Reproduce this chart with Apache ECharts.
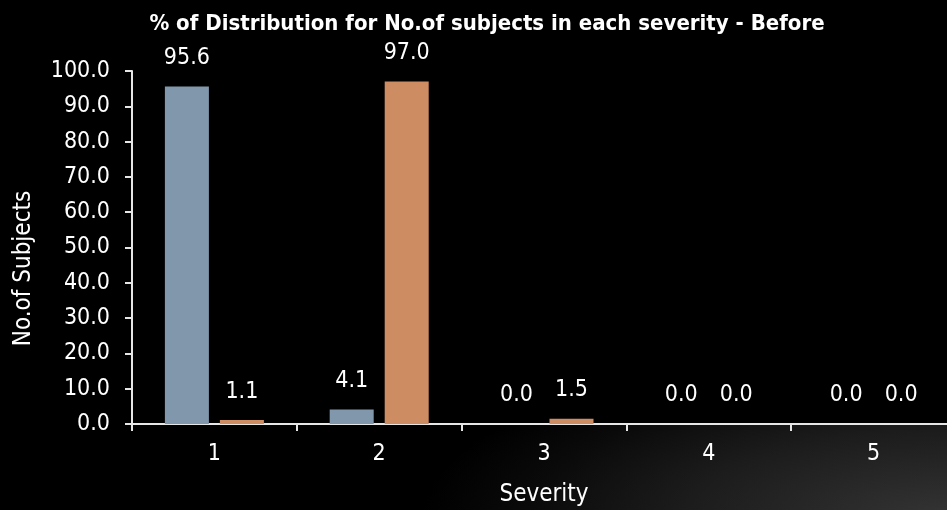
<!DOCTYPE html>
<html>
<head>
<meta charset="utf-8">
<script src="https://cdn.jsdelivr.net/npm/echarts@6/dist/echarts.min.js"></script>
<style>
  html, body { margin: 0; padding: 0; background: #000; }
  #chart { width: 947px; height: 510px; }
</style>
</head>
<body>
<div id="chart"></div>
<script>
// Severity categories and the percentage of subjects in each
const severityLevels = ['1', '2', '3', '4', '5'];
const groupOneValues = [95.6, 4.1, 0.0, 0.0, 0.0];
const groupTwoValues = [1.1, 97.0, 1.5, 0.0, 0.0];
const yTickMin = 0;
const yTickMax = 100;
const yTickStep = 10;

const FONT = "'Liberation Sans Narrow', 'Arial Narrow', 'DejaVu Sans Condensed', sans-serif";
const AXIS_COLOR = '#e6e6e6';

const chart = echarts.init(document.getElementById('chart'), null, { renderer: 'canvas' });

const valueLabel = {
  show: true,
  position: 'top',
  distance: 17,
  color: '#ffffff',
  fontFamily: FONT,
  fontSize: 23,
  formatter: p => Number(p.value).toFixed(1)
};

chart.setOption({
  backgroundColor: '#000000',
  graphic: [{
    // wide, soft grey glow spreading from the lower right corner
    type: 'circle',
    z: -100,
    silent: true,
    x: 947,
    y: 518,
    scaleX: 3,
    scaleY: 1,
    shape: { cx: 0, cy: 0, r: 175 },
    style: {
      fill: new echarts.graphic.RadialGradient(0.5, 0.5, 0.5, [
        { offset: 0, color: '#343434' },
        { offset: 0.5, color: '#1c1c1c' },
        { offset: 0.8, color: '#0a0a0a' },
        { offset: 1, color: '#000000' }
      ])
    }
  }],
  title: {
    text: '% of Distribution for No.of subjects in each severity - Before',
    left: 482,
    top: 8,
    textAlign: 'center',
    textStyle: { color: '#ffffff', fontFamily: FONT, fontSize: 22, fontWeight: 'bold' }
  },
  grid: {
    left: 132, top: 71, bottom: 86, right: -9,
    containLabel: false, outerBoundsMode: 'none',
    show: true, backgroundColor: '#000000', borderWidth: 0
  },
  xAxis: {
    type: 'category',
    data: severityLevels,
    name: 'Severity',
    nameLocation: 'middle',
    nameGap: 59,
    nameTextStyle: { color: '#ffffff', fontFamily: FONT, fontSize: 24 },
    axisLine: { lineStyle: { color: AXIS_COLOR, width: 2 } },
    axisTick: { show: true, length: 7, lineStyle: { color: AXIS_COLOR, width: 2 } },
    axisLabel: { color: '#ffffff', fontFamily: FONT, fontSize: 23, margin: 19 },
    splitLine: { show: false }
  },
  yAxis: {
    type: 'value',
    min: yTickMin,
    max: yTickMax,
    interval: yTickStep,
    name: 'No.of Subjects',
    nameLocation: 'middle',
    nameGap: 96,
    nameTextStyle: { color: '#ffffff', fontFamily: FONT, fontSize: 24, padding: [0, 42, 0, 0] },
    axisLine: { show: true, lineStyle: { color: AXIS_COLOR, width: 2 } },
    axisTick: { show: true, length: 7, lineStyle: { color: AXIS_COLOR, width: 2 } },
    axisLabel: {
      color: '#ffffff', fontFamily: FONT, fontSize: 23, margin: 22,
      formatter: v => Number(v).toFixed(1)
    },
    splitLine: { show: false }
  },
  series: [
    {
      name: 'Group 1',
      type: 'bar',
      data: groupOneValues,
      barWidth: 44,
      barGap: '25%',
      itemStyle: { color: '#8097ac' },
      label: valueLabel
    },
    {
      name: 'Group 2',
      type: 'bar',
      data: groupTwoValues,
      barWidth: 44,
      itemStyle: { color: '#ce8c62' },
      label: valueLabel
    }
  ]
});
</script>
</body>
</html>
